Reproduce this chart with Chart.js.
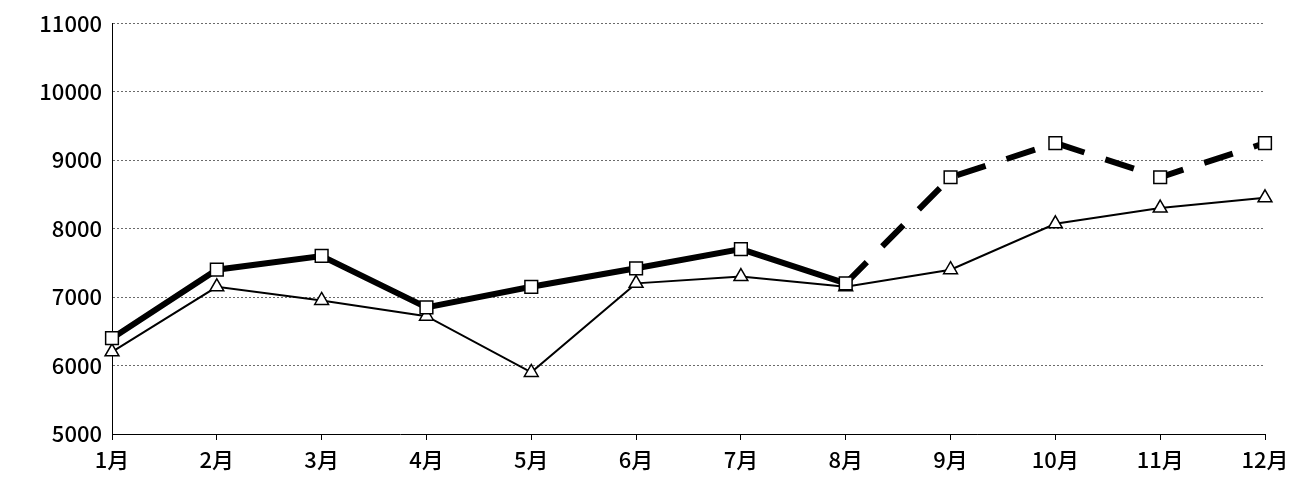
<!DOCTYPE html>
<html><head><meta charset="utf-8">
<script src="https://cdn.jsdelivr.net/npm/chart.js@4"></script>
<style>html,body{margin:0;background:#fff}#wrap{width:1302px;height:491px}</style>
</head><body><div id="wrap"><canvas id="c"></canvas></div>
<script>
var meses = ['1月','2月','3月','4月','5月','6月','7月','8月','9月','10月','11月','12月'];
var serieCuadro = [6400, 7400, 7600, 6850, 7150, 7420, 7700, 7200, 8750, 9250, 8750, 9250];
var serieTriangulo = [6200, 7150, 6950, 6720, 5900, 7200, 7300, 7150, 7400, 8070, 8300, 8450];
var ticksY = [5000, 6000, 7000, 8000, 9000, 10000, 11000];
var ultimoReal = 7; // indice de 8月, despues punteado

Chart.defaults.font.family = '"Noto Sans CJK JP", sans-serif';
Chart.defaults.color = '#000';

new Chart(document.getElementById('c'), {
    type: 'line',
    data: {
        labels: meses,
        datasets: [{
            data: serieCuadro,
            borderColor: '#000',
            borderWidth: 6,
            pointStyle: 'rect',
            pointRadius: 9,
            pointBorderWidth: 1.5,
            pointBackgroundColor: '#fff',
            pointBorderColor: '#000',
            segment: {
                borderDash: function (ctx) { return ctx.p0DataIndex >= ultimoReal ? [30, 22] : undefined; }
            },
            order: 1
        }, {
            data: serieTriangulo,
            borderColor: '#000',
            borderWidth: 2,
            pointStyle: 'triangle',
            pointRadius: 8,
            pointBorderWidth: 1.5,
            pointBackgroundColor: '#fff',
            pointBorderColor: '#000',
            order: 2
        }]
    },
    options: {
        responsive: true,
        maintainAspectRatio: false,
        animation: false,
        layout: { padding: { top: 5, right: 37, left: 0, bottom: 0 } },
        plugins: { legend: { display: false }, tooltip: { enabled: false } },
        scales: {
            x: {
                offset: false,
                afterFit: function (s) { s.height = 57; },
                grid: { drawOnChartArea: false, drawTicks: true, tickLength: 6, color: '#000' },
                border: { color: '#000', width: 1 },
                ticks: { font: { size: 22, weight: '500' }, padding: 6, maxRotation: 0 }
            },
            y: {
                min: ticksY[0], max: ticksY[ticksY.length - 1],
                afterFit: function (s) { s.width = 112; },
                afterBuildTicks: function (s) { s.ticks = ticksY.map(function (v) { return { value: v }; }); },
                grid: { color: '#444', lineWidth: 0.8, tickLength: 0 },
                border: { color: '#000', width: 1, dash: [2, 2] },
                ticks: { font: { size: 22, weight: '500' }, padding: 10, callback: function (v) { return String(v); } }
            }
        }
    }
});
</script>
</body></html>
